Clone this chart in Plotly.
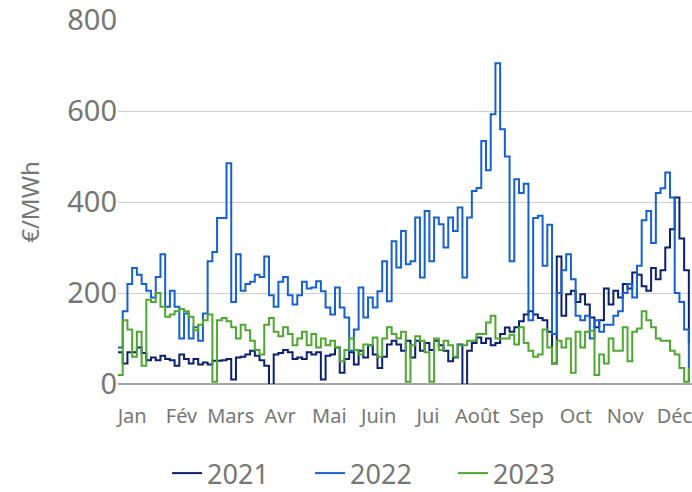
import plotly.graph_objects as go

# day-of-year positions (every 3 days)
days = list(range(0, 366, 3))

prix_2021 = [70, 45, 70, 70, 80, 68, 52, 58, 52, 62, 55, 52, 40, 65, 55, 45, 55, 43, 47, 43,
             51, 51, 52, 55, 10, 58, 60, 65, 73, 62, 52, 40, -15, 65, 68, 75, 70, 55, 58, 55,
             70, 65, 70, 10, 62, 65, 80, 25, 55, 70, 43, 73, 58, 85, 65, 35, 60, 87, 95, 87,
             73, 95, 58, 95, 73, 90, 75, 95, 85, 73, 50, 58, 87, -5, 73, 90, 102, 90, 100, 85,
             90, 110, 124, 115, 125, 138, 153, 160, 153, 145, 140, 115, 45, 280, 150, 197, 205, 180, 197, 175,
             146, 125, 140, 210, 175, 205, 190, 220, 210, 245, 240, 215, 205, 255, 230, 250, 300, 340, 410, 320,
             250, 90]

prix_2022 = [80, 160, 220, 255, 240, 220, 205, 190, 235, 285, 170, 205, 170, 100, 155, 100, 125, 95, 155, 270,
             290, 365, 365, 485, 180, 285, 205, 220, 225, 240, 235, 280, 195, 170, 225, 235, 195, 175, 195, 225,
             210, 212, 226, 204, 168, 153, 212, 168, 146, 73, 120, 212, 146, 190, 168, 204, 270, 182, 314, 256,
             336, 263, 270, 366, 234, 380, 270, 366, 351, 300, 366, 336, 388, 234, 366, 424, 431, 534, 470, 593,
             705, 560, 500, 270, 450, 420, 440, 140, 365, 370, 260, 350, 110, 200, 250, 285, 230, 150, 140, 150,
             100, 140, 115, 130, 130, 150, 160, 200, 220, 190, 260, 360, 380, 310, 420, 430, 465, 410, 200, 180,
             120, 5]

prix_2023 = [20, 140, 120, 60, 115, 40, 185, 180, 200, 170, 148, 153, 160, 165, 160, 148, 118, 130, 140, 153,
             5, 140, 145, 138, 125, 100, 130, 118, 95, 75, 65, 130, 145, 115, 105, 125, 110, 85, 100, 115,
             85, 110, 80, 100, 85, 95, 80, 50, 75, 100, 75, 65, 87, 85, 102, 60, 100, 125, 110, 100,
             115, 5, 85, 105, 95, 70, 5, 100, 75, 95, 85, 60, 85, 85, 95, 95, 110, 110, 135, 150,
             100, 100, 100, 108, 87, 125, 90, 73, 60, 65, 120, 80, 45, 95, 80, 100, 25, 115, 80, 115,
             117, 20, 65, 45, 100, 73, 73, 125, 50, 115, 122, 160, 140, 125, 100, 95, 95, 73, 65, 35,
             5, 35]

mois = ["Jan", "Fév", "Mars", "Avr", "Mai", "Juin", "Jui", "Août", "Sep", "Oct", "Nov", "Déc"]
y_ticks = [0, 200, 400, 600, 800]

series = [("2021", prix_2021, "#0b2070"),
          ("2022", prix_2022, "#1660d0"),
          ("2023", prix_2023, "#4ea72e")]

fig = go.Figure()
for name, vals, col in series:
    fig.add_trace(go.Scatter(x=days, y=vals, mode="lines", name=name,
                             line=dict(color=col, width=2, shape="hv")))

month_pos = [9 + 31.35 * k for k in range(len(mois))]

font_family = "Noto Sans"
gray = "#767676"

fig.update_layout(
    width=692, height=492,
    margin=dict(l=118, r=0, t=20, b=108, autoexpand=False),
    paper_bgcolor="white", plot_bgcolor="white",
    font=dict(family=font_family, color=gray),
    showlegend=True,
    legend=dict(orientation="h", x=0.0855, xanchor="left", y=-0.246, yanchor="middle",
                font=dict(size=27, color=gray), entrywidth=98, entrywidthmode="pixels",
                itemwidth=30, traceorder="normal"),
    xaxis=dict(range=[0, 365], tickmode="array", tickvals=month_pos, ticktext=mois,
               showgrid=False, zeroline=False, showline=False, ticks="",
               tickfont=dict(size=20, color=gray), ticklabelstandoff=18,
               ticklabeloverflow="allow"),
    yaxis=dict(range=[0, 800], tickmode="array", tickvals=y_ticks,
               showgrid=True, gridcolor="#cfcfcf", gridwidth=1,
               zeroline=True, zerolinecolor="#a6a6a6", zerolinewidth=1.5,
               showline=False, ticks="", tickfont=dict(size=29, color=gray),
               ticklabelstandoff=0, ticklabeloverflow="allow",
               title=dict(text="€/MWh", font=dict(size=24, color=gray), standoff=20)),
)

fig.write_html("out.html",
               config={"displayModeBar": False},
               post_script="document.body.style.margin='0';document.body.style.overflow='hidden';")
